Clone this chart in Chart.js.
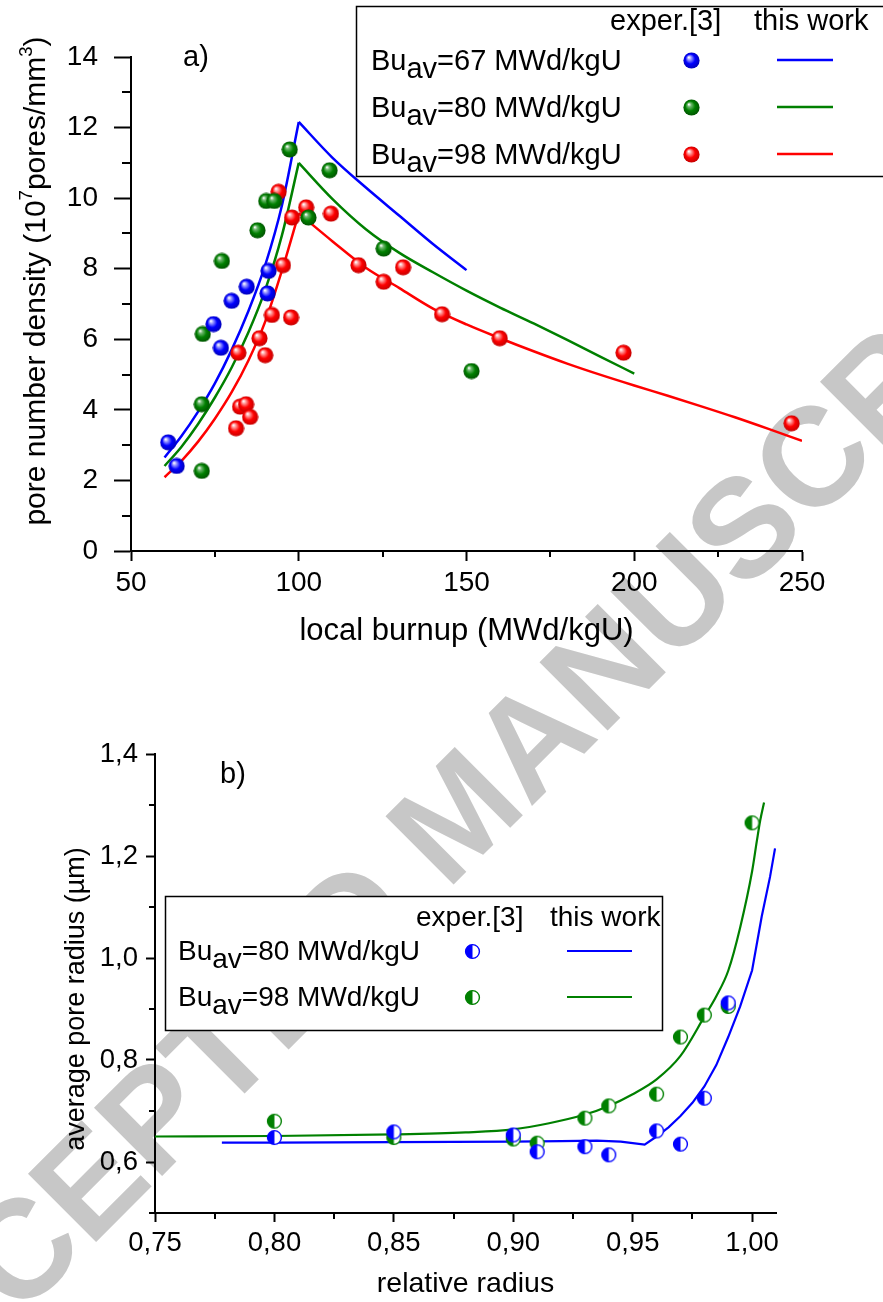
<!DOCTYPE html>
<html>
<head>
<meta charset="utf-8">
<title>Pore number density and average pore radius</title>
<script src="https://cdn.jsdelivr.net/npm/chart.js@4.4.1/dist/chart.umd.min.js"></script>
<style>
  html, body { margin: 0; padding: 0; background: #ffffff; }
  body { position: relative; width: 883px; height: 1302px; overflow: hidden; }
  #stamp {
    position: absolute; left: 457px; top: 813px;
    font: bold 140px "Liberation Sans", Arial, sans-serif;
    color: #c7c7c7; white-space: nowrap; line-height: 1;
    transform: translate(-50%, -50%) rotate(-45deg);
  }
  canvas { position: absolute; left: 0; }
  #panelA { top: 0; }
  #panelB { top: 700px; }
</style>
</head>
<body>
<div id="stamp">ACCEPTED MANUSCRIPT</div>
<canvas id="panelA" width="883" height="700"></canvas>
<canvas id="panelB" width="883" height="602"></canvas>
<script>
// ---------- panel a): pore number density vs local burnup ----------
const burnupTicks = [50, 100, 150, 200, 250];
const burnupMinor = [75, 125, 175, 225];
const densityTicks = [0, 2, 4, 6, 8, 10, 12, 14];
const densityMinor = [1, 3, 5, 7, 9, 11, 13];
const averageBurnupA = [67, 80, 98];

// measured points
const exp67Burnup  = [61.1, 63.6, 74.6, 76.8, 80.0, 84.5, 90.7, 91.0];
const exp67Density = [3.08, 2.41, 6.43, 5.76, 7.09, 7.49, 7.30, 7.94];
const exp80Burnup  = [71.1, 71.1, 71.4, 77.1, 87.7, 90.3, 92.7, 97.3, 102.9, 109.2, 125.3, 151.5];
const exp80Density = [2.27, 4.16, 6.15, 8.22, 9.09, 9.92, 9.92, 11.38, 9.45, 10.79, 8.57, 5.10];
const exp98Burnup  = [81.3, 82.0, 82.5, 84.3, 85.5, 88.3, 90.0, 92.0, 94.0, 95.3, 97.7, 98.0, 102.2, 109.6, 117.8, 125.3, 131.1, 142.7, 159.9, 196.8, 246.9];
const exp98Density = [3.48, 5.62, 4.09, 4.16, 3.80, 6.03, 5.55, 6.69, 10.18, 8.10, 6.62, 9.45, 9.74, 9.56, 8.10, 7.63, 8.04, 6.71, 6.03, 5.62, 3.62];

// model curves (rising branch up to 100 MWd/kgU, then decaying branch)
const riseBurnup = [60, 65, 70, 75, 80, 85, 90, 95, 100];
const model67Rise = [2.65, 3.25, 3.95, 4.75, 5.7, 6.8, 8.1, 9.8, 12.16];
const model80Rise = [2.41, 2.95, 3.6, 4.35, 5.2, 6.2, 7.4, 8.95, 11.0];
const model98Rise = [2.09, 2.55, 3.1, 3.75, 4.5, 5.4, 6.5, 7.95, 9.57];
const model67DecayBurnup = [100, 110, 120, 130, 140, 150];
const model67Decay = [12.16, 11.15, 10.3, 9.5, 8.7, 7.96];
const model80DecayBurnup = [100, 110, 120, 130, 140, 150, 160, 170, 180, 190, 200];
const model80Decay = [11.0, 9.98, 9.12, 8.45, 7.9, 7.38, 6.9, 6.45, 5.98, 5.5, 5.03];
const model98DecayBurnup = [100, 110, 120, 130, 140, 150, 160, 170, 180, 190, 200, 210, 220, 230, 240, 250];
const model98Decay = [9.57, 8.78, 8.03, 7.45, 6.87, 6.42, 6.03, 5.66, 5.31, 4.99, 4.69, 4.40, 4.10, 3.79, 3.46, 3.12];

// ---------- panel b): average pore radius vs relative radius ----------
const radiusTicks = [0.75, 0.80, 0.85, 0.90, 0.95, 1.00];
const radiusMinor = [0.775, 0.825, 0.875, 0.925, 0.975];
const poreTicks = [0.6, 0.8, 1.0, 1.2, 1.4];
const poreMinor = [0.5, 0.7, 0.9, 1.1, 1.3];
const averageBurnupB = [80, 98];

const exp80Radius = [0.80, 0.85, 0.90, 0.91, 0.93, 0.94, 0.96, 0.97, 0.98, 0.99];
const exp80Pore   = [0.648, 0.659, 0.653, 0.620, 0.630, 0.614, 0.661, 0.635, 0.725, 0.912];
const exp98Radius = [0.80, 0.85, 0.90, 0.91, 0.93, 0.94, 0.96, 0.97, 0.98, 0.99, 1.00];
const exp98Pore   = [0.680, 0.648, 0.645, 0.637, 0.686, 0.710, 0.733, 0.845, 0.888, 0.905, 1.265];

const model80Radius = [0.778, 0.80, 0.85, 0.90, 0.92, 0.935, 0.945, 0.955, 0.96, 0.965, 0.97, 0.975, 0.98, 0.985, 0.99, 0.995, 1.0, 1.004, 1.0075, 1.0096];
const model80Pore   = [0.638, 0.638, 0.639, 0.640, 0.641, 0.642, 0.640, 0.634, 0.650, 0.668, 0.690, 0.716, 0.748, 0.790, 0.845, 0.905, 0.976, 1.081, 1.159, 1.215];
const model98Radius = [0.75, 0.80, 0.85, 0.88, 0.90, 0.915, 0.93, 0.94, 0.95, 0.96, 0.97, 0.98, 0.985, 0.99, 0.995, 1.0, 1.002, 1.0034, 1.005];
const model98Pore   = [0.650, 0.651, 0.654, 0.658, 0.664, 0.676, 0.693, 0.710, 0.733, 0.762, 0.808, 0.885, 0.925, 0.975, 1.06, 1.17, 1.23, 1.27, 1.305];

// ---------- drawing helpers ----------
const FONT = '"Liberation Sans", Arial, Helvetica, sans-serif';
Chart.defaults.font.family = FONT;
Chart.defaults.color = '#000';

const BLUE = '#0000ff', GREEN = '#008000', RED = '#ff0000';

function pts(xs, ys) { return xs.map((x, i) => ({ x: x, y: ys[i] })); }

// shaded ball marker
function ball(base, light, dark, d) {
  const c = document.createElement('canvas');
  c.width = d; c.height = d;
  const g = c.getContext('2d');
  const r = d / 2;
  const grad = g.createRadialGradient(r * 0.68, r * 0.62, r * 0.04, r, r, r);
  grad.addColorStop(0, '#ffffff');
  grad.addColorStop(0.2, light);
  grad.addColorStop(0.55, base);
  grad.addColorStop(1, dark);
  g.fillStyle = grad;
  g.beginPath(); g.arc(r, r, r - 0.4, 0, Math.PI * 2); g.fill();
  return c;
}

// half-filled circle marker (left half coloured)
function halfDot(color, d) {
  const c = document.createElement('canvas');
  c.width = d + 2; c.height = d + 2;
  const g = c.getContext('2d');
  const cx = c.width / 2, cy = c.height / 2, r = d / 2 - 0.6;
  g.fillStyle = '#ffffff';
  g.beginPath(); g.arc(cx, cy, r, 0, Math.PI * 2); g.fill();
  g.fillStyle = color;
  g.beginPath(); g.arc(cx, cy, r, Math.PI / 2, Math.PI * 1.5); g.closePath(); g.fill();
  g.strokeStyle = color; g.lineWidth = 1.4;
  g.beginPath(); g.arc(cx, cy, r, 0, Math.PI * 2); g.stroke();
  return c;
}

// text with subscript (1) / superscript (2) pieces
function rich(ctx, parts, x, y, size, align) {
  const sized = parts.map(([t, k]) => {
    const s = k === 2 ? size * 0.62 : size;
    ctx.font = s + 'px ' + FONT;
    return { t: t, k: k, s: s, w: ctx.measureText(t).width };
  });
  const total = sized.reduce((a, p) => a + p.w, 0);
  let cx = align === 'center' ? x - total / 2 : x;
  ctx.textAlign = 'left';
  ctx.textBaseline = 'alphabetic';
  sized.forEach(p => {
    ctx.font = p.s + 'px ' + FONT;
    const dy = p.k === 1 ? size * 0.29 : (p.k === 2 ? -size * 0.42 : 0);
    ctx.fillText(p.t, cx, y + dy);
    cx += p.w;
  });
}

function makeDecor(cfg) {
  return {
    id: 'decor',
    afterDraw(chart) {
      const ctx = chart.ctx, area = chart.chartArea;
      const xs = chart.scales.x, ys = chart.scales.y;
      ctx.save();
      // minor ticks
      ctx.strokeStyle = '#000'; ctx.lineWidth = 2;
      ctx.beginPath();
      cfg.minorX.forEach(v => {
        const px = Math.round(xs.getPixelForValue(v));
        ctx.moveTo(px, area.bottom); ctx.lineTo(px, area.bottom + cfg.minorLenX);
      });
      cfg.minorY.forEach(v => {
        const py = Math.round(ys.getPixelForValue(v));
        ctx.moveTo(area.left, py); ctx.lineTo(area.left - cfg.minorLenY, py);
      });
      ctx.stroke();
      // vertical axis title
      ctx.fillStyle = '#000';
      ctx.save();
      ctx.translate(cfg.yTitle.x, cfg.yTitle.y);
      ctx.rotate(-Math.PI / 2);
      rich(ctx, cfg.yTitle.parts, 0, 0, cfg.yTitle.size, 'center');
      ctx.restore();
      // panel tag
      ctx.font = cfg.tag.size + 'px ' + FONT;
      ctx.textAlign = 'left'; ctx.textBaseline = 'middle';
      ctx.fillText(cfg.tag.text, cfg.tag.x, cfg.tag.y);
      // key box
      const L = cfg.key;
      ctx.fillStyle = '#ffffff';
      ctx.fillRect(L.box[0], L.box[1], L.box[2], L.box[3]);
      ctx.strokeStyle = '#000'; ctx.lineWidth = 1.5;
      ctx.strokeRect(L.box[0], L.box[1], L.box[2], L.box[3]);
      ctx.fillStyle = '#000';
      ctx.font = L.size + 'px ' + FONT;
      ctx.textAlign = 'left'; ctx.textBaseline = 'middle';
      ctx.fillText('exper.[3]', L.headX[0], L.headY);
      ctx.fillText('this work', L.headX[1], L.headY);
      L.rows.forEach((row, i) => {
        const y = L.rowY[i];
        ctx.fillStyle = '#000';
        rich(ctx, [['Bu', 0], ['av', 1], ['=' + row.value + ' MWd/kgU', 0]], L.labelX, y + L.size * 0.33, L.size, 'left');
        ctx.drawImage(row.mark, Math.round(L.markX - row.mark.width / 2), Math.round(y - row.mark.height / 2));
        ctx.strokeStyle = row.color; ctx.lineWidth = L.lineW;
        ctx.beginPath(); ctx.moveTo(L.lineX[0], y); ctx.lineTo(L.lineX[1], y); ctx.stroke();
      });
      ctx.restore();
    }
  };
}

function axis(opts) {
  return {
    type: 'linear', min: opts.min, max: opts.max,
    afterBuildTicks: s => { s.ticks = opts.ticks.map(v => ({ value: v })); },
    afterFit: opts.fit,
    grid: { drawOnChartArea: false, drawTicks: true, tickLength: opts.tickLength, tickWidth: 2, tickColor: '#000' },
    border: { display: true, color: '#000', width: 2 },
    ticks: { font: { size: opts.tickSize }, color: '#000', padding: opts.pad, maxRotation: 0, autoSkip: false,
             callback: opts.fmt || (v => String(v)) },
    title: opts.title || { display: false }
  };
}

// ---------- panel a) ----------
const ballBlue = ball(BLUE, '#9a9aff', '#0000b4', 17);
const ballGreen = ball(GREEN, '#6fb86f', '#005000', 17);
const ballRed = ball(RED, '#ff9c9c', '#c00000', 17);

function modelLine(data, color, width) {
  return { data: data, showLine: true, pointRadius: 0, borderColor: color, borderWidth: width,
           cubicInterpolationMode: 'monotone', fill: false };
}
function markers(data, style) {
  return { data: data, showLine: false, pointStyle: style, pointRadius: 8, pointHoverRadius: 8 };
}

new Chart(document.getElementById('panelA'), {
  type: 'scatter',
  data: {
    datasets: [
      markers(pts(exp67Burnup, exp67Density), ballBlue),
      markers(pts(exp80Burnup, exp80Density), ballGreen),
      markers(pts(exp98Burnup, exp98Density), ballRed),
      modelLine(pts(riseBurnup, model67Rise), BLUE, 2.5),
      modelLine(pts(model67DecayBurnup, model67Decay), BLUE, 2.5),
      modelLine(pts(riseBurnup, model80Rise), GREEN, 2.5),
      modelLine(pts(model80DecayBurnup, model80Decay), GREEN, 2.5),
      modelLine(pts(riseBurnup, model98Rise), RED, 2.5),
      modelLine(pts(model98DecayBurnup, model98Decay), RED, 2.5)
    ]
  },
  options: {
    responsive: false, animation: false, devicePixelRatio: 1,
    layout: { padding: { left: 0, top: 57, right: 81, bottom: 0 } },
    plugins: { legend: { display: false }, tooltip: { enabled: false } },
    scales: {
      x: axis({ min: 50, max: 250, ticks: burnupTicks, tickLength: 10, tickSize: 28, pad: 5,
                fit: s => { s.height = 149; },
                title: { display: true, text: 'local burnup (MWd/kgU)', font: { size: 31 }, color: '#000',
                         padding: { top: 0, bottom: 50 } } }),
      y: axis({ min: 0, max: 14, ticks: densityTicks, tickLength: 17, tickSize: 28, pad: 16,
                fit: s => { s.width = 131; } })
    }
  },
  plugins: [makeDecor({
    minorX: burnupMinor, minorY: densityMinor, minorLenX: 6, minorLenY: 9,
    yTitle: { x: 45, y: 281, size: 30,
              parts: [['pore number density (10', 0], ['7', 2], ['pores/mm', 0], ['3', 2], [')', 0]] },
    tag: { text: 'a)', x: 183, y: 58, size: 29 },
    key: {
      box: [356.5, 6.5, 540, 170], size: 29,
      headX: [610, 754], headY: 22,
      labelX: 371, rowY: [60, 107, 154], markX: 691, lineX: [777, 833], lineW: 2.5,
      rows: [
        { value: averageBurnupA[0], mark: ballBlue, color: BLUE },
        { value: averageBurnupA[1], mark: ballGreen, color: GREEN },
        { value: averageBurnupA[2], mark: ballRed, color: RED }
      ]
    }
  })]
});

// ---------- panel b) ----------
const halfBlue = halfDot(BLUE, 15);
const halfGreen = halfDot(GREEN, 15);

new Chart(document.getElementById('panelB'), {
  type: 'scatter',
  data: {
    datasets: [
      markers(pts(exp80Radius, exp80Pore), halfBlue),
      markers(pts(exp98Radius, exp98Pore), halfGreen),
      { data: pts(model80Radius, model80Pore), showLine: true, pointRadius: 0, borderColor: BLUE, borderWidth: 2.2, tension: 0 },
      { data: pts(model98Radius, model98Pore), showLine: true, pointRadius: 0, borderColor: GREEN, borderWidth: 2.2,
        cubicInterpolationMode: 'monotone' }
    ]
  },
  options: {
    responsive: false, animation: false, devicePixelRatio: 1,
    layout: { padding: { left: 0, top: 54, right: 107, bottom: 0 } },
    plugins: { legend: { display: false }, tooltip: { enabled: false } },
    scales: {
      x: axis({ min: 0.75, max: 1.01, ticks: radiusTicks, tickLength: 9, tickSize: 27.5, pad: 5,
                fmt: v => v.toFixed(2).replace('.', ','),
                fit: s => { s.height = 89; },
                title: { display: true, text: 'relative radius', font: { size: 28.5 }, color: '#000',
                         padding: { top: 0, bottom: 1 } } }),
      y: axis({ min: 0.5, max: 1.4, ticks: poreTicks, tickLength: 9, tickSize: 27.5, pad: 8,
                fmt: v => v.toFixed(1).replace('.', ','),
                fit: s => { s.width = 155; } })
    }
  },
  plugins: [makeDecor({
    minorX: radiusMinor, minorY: poreMinor, minorLenX: 6, minorLenY: 6,
    yTitle: { x: 84, y: 299, size: 27, parts: [['average pore radius (\u00b5m)', 0]] },
    tag: { text: 'b)', x: 220, y: 75, size: 29 },
    key: {
      box: [165.5, 196.5, 497, 134], size: 28,
      headX: [416, 550], headY: 218,
      labelX: 178, rowY: [251, 297], markX: 472, lineX: [567, 632], lineW: 2.2,
      rows: [
        { value: averageBurnupB[0], mark: halfBlue, color: BLUE },
        { value: averageBurnupB[1], mark: halfGreen, color: GREEN }
      ]
    }
  })]
});
</script>
</body>
</html>
